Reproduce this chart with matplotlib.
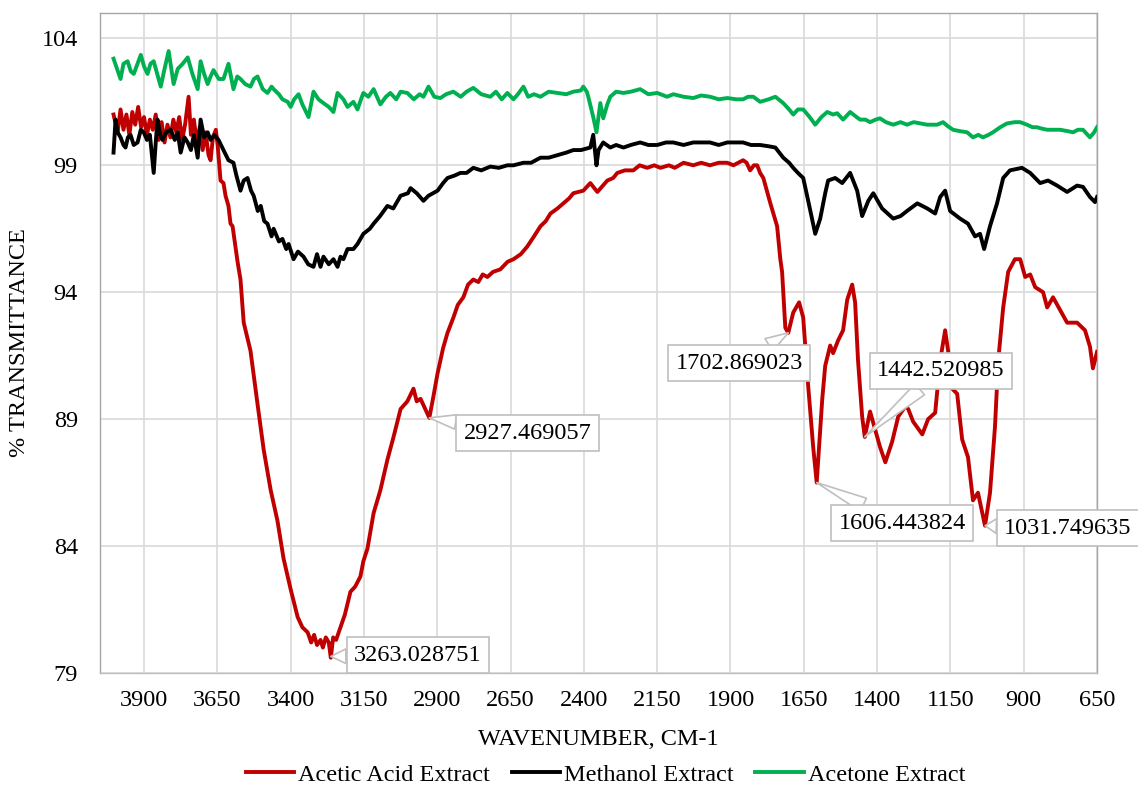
import matplotlib
matplotlib.use("Agg")
import matplotlib.pyplot as plt

# FTIR spectra (wavenumber cm-1, % transmittance)
acetic_wn = [4004, 3990, 3980, 3970, 3960, 3950, 3940, 3930, 3920, 3910, 3900, 3890, 3880, 3870,
             3860, 3850, 3840, 3830, 3820, 3810, 3800, 3790, 3780, 3770, 3760, 3748, 3740, 3730,
             3720, 3710, 3700, 3690, 3680, 3673, 3665, 3655, 3649, 3639, 3629, 3622, 3612, 3605,
             3598, 3581, 3571, 3560, 3537, 3513, 3492, 3468, 3445, 3424, 3400, 3376, 3360, 3342,
             3330, 3320, 3310, 3298, 3290, 3280, 3270, 3263, 3255, 3245, 3230, 3215, 3196, 3180,
             3162, 3152, 3138, 3117, 3094, 3070, 3049, 3025, 3010, 3002, 2981, 2970, 2957, 2945,
             2927, 2913, 2899, 2880, 2865, 2845, 2830, 2811, 2795, 2777, 2760, 2745, 2729, 2710,
             2685, 2660, 2640, 2615, 2593, 2570, 2548, 2530, 2514, 2490, 2470, 2450, 2436, 2402,
             2378, 2354, 2335, 2320, 2300, 2286, 2260, 2231, 2210, 2184, 2160, 2139, 2110, 2090,
             2060, 2027, 2000, 1970, 1940, 1911, 1890, 1857, 1845, 1833, 1820, 1809, 1799, 1788,
             1764, 1741, 1730, 1724, 1713, 1703, 1686, 1666, 1652, 1635, 1618, 1606, 1587, 1577,
             1560, 1550, 1533, 1516, 1502, 1485, 1475, 1465, 1451, 1442, 1424, 1407, 1390, 1372,
             1349, 1328, 1304, 1294, 1277, 1246, 1226, 1202, 1185, 1168, 1158, 1144, 1127, 1110,
             1090, 1073, 1056, 1032, 1015, 998, 987, 970, 953, 930, 912, 895, 878, 861, 834, 820,
             800, 776, 752, 718, 691, 674, 664, 650]
acetic_t = [101.0, 100.3, 101.2, 100.4, 101.0, 100.2, 101.1, 100.6, 101.3, 100.5, 100.9, 100.2,
            100.8, 100.4, 101.0, 100.0, 100.7, 99.9, 100.6, 100.1, 100.8, 100.3, 100.9, 100.0,
            100.6, 101.7, 100.2, 100.8, 99.9, 100.5, 99.6, 100.3, 99.4, 99.2, 100.1, 100.4, 99.8,
            98.4, 98.3, 97.8, 97.4, 96.7, 96.6, 95.2, 94.5, 92.8, 91.7, 89.6, 87.8, 86.2, 85.0,
            83.5, 82.3, 81.2, 80.8, 80.6, 80.2, 80.5, 80.1, 80.3, 80.0, 80.4, 80.2, 79.6, 80.4,
            80.3, 80.8, 81.3, 82.2, 82.4, 82.8, 83.4, 83.9, 85.3, 86.2, 87.4, 88.3, 89.4, 89.6,
            89.7, 90.2, 89.7, 89.8, 89.5, 89.05, 89.9, 90.8, 91.8, 92.4, 93.0, 93.5, 93.8, 94.3,
            94.5, 94.4, 94.7, 94.6, 94.8, 94.9, 95.2, 95.3, 95.5, 95.8, 96.2, 96.6, 96.8, 97.1,
            97.3, 97.5, 97.7, 97.9, 98.0, 98.3, 97.95, 98.2, 98.4, 98.5, 98.7, 98.8, 98.8, 99.0,
            98.9, 99.0, 98.9, 99.0, 98.9, 99.1, 99.0, 99.1, 99.0, 99.1, 99.1, 99.0, 99.2, 99.1,
            98.8, 99.0, 99.0, 98.7, 98.5, 97.5, 96.6, 95.3, 94.8, 92.6, 92.4, 93.2, 93.6, 93.0,
            90.3, 87.9, 86.5, 89.8, 91.1, 91.9, 91.6, 92.1, 92.5, 93.7, 94.3, 93.6, 91.3, 89.1,
            88.3, 89.3, 88.6, 87.9, 87.3, 88.1, 89.1, 89.5, 89.4, 88.9, 88.4, 89.0, 89.25, 91.3,
            92.5, 91.7, 90.2, 90.0, 88.2, 87.5, 85.8, 86.1, 84.8, 86.1, 88.7, 91.3, 93.4, 94.8,
            95.3, 95.3, 94.6, 94.7, 94.2, 94.0, 93.4, 93.8, 93.3, 92.8, 92.8, 92.5, 91.85, 91.0,
            91.65]

methanol_wn = [4004, 3997, 3990, 3980, 3970, 3963, 3955, 3946, 3935, 3922, 3911, 3901, 3890,
               3880, 3867, 3860, 3854, 3845, 3837, 3825, 3809, 3795, 3785, 3775, 3762, 3751,
               3740, 3730, 3717, 3707, 3695, 3683, 3673, 3660, 3646, 3629, 3612, 3595, 3585,
               3571, 3560, 3547, 3535, 3526, 3512, 3502, 3490, 3479, 3465, 3458, 3440, 3428,
               3415, 3407, 3390, 3375, 3356, 3340, 3322, 3310, 3298, 3288, 3270, 3254, 3240,
               3230, 3220, 3206, 3186, 3172, 3152, 3130, 3117, 3095, 3070, 3050, 3025, 3000,
               2991, 2970, 2947, 2930, 2899, 2880, 2865, 2840, 2821, 2800, 2777, 2750, 2719,
               2690, 2661, 2640, 2606, 2580, 2548, 2520, 2490, 2460, 2436, 2410, 2378, 2368,
               2357, 2350, 2334, 2310, 2290, 2265, 2240, 2208, 2180, 2150, 2120, 2095, 2060,
               2027, 2003, 1970, 1940, 1911, 1880, 1857, 1830, 1799, 1770, 1747, 1720, 1700,
               1686, 1670, 1652, 1635, 1611, 1594, 1577, 1567, 1543, 1519, 1492, 1468, 1451,
               1430, 1413, 1383, 1345, 1320, 1298, 1263, 1229, 1202, 1185, 1168, 1151, 1117,
               1090, 1066, 1049, 1035, 1015, 991, 970, 947, 906, 878, 844, 817, 786, 752, 718,
               698, 674, 657, 650]
methanol_t = [99.5, 100.8, 100.3, 100.1, 99.8, 99.7, 100.1, 100.2, 99.8, 99.9, 100.4, 100.3,
              100.0, 100.2, 98.7, 99.9, 100.8, 100.2, 100.0, 100.3, 100.4, 100.0, 100.3, 99.5,
              100.1, 99.9, 99.6, 100.2, 99.3, 100.8, 100.1, 100.3, 100.0, 100.2, 100.0, 99.6,
              99.2, 99.1, 98.6, 98.0, 98.4, 98.5, 98.0, 97.8, 97.2, 97.4, 96.8, 96.7, 96.2, 96.5,
              96.0, 96.1, 95.7, 95.9, 95.3, 95.6, 95.4, 95.1, 95.0, 95.5, 95.0, 95.4, 95.1, 95.3,
              95.0, 95.4, 95.3, 95.7, 95.7, 95.9, 96.3, 96.5, 96.7, 97.0, 97.4, 97.3, 97.8, 97.9,
              98.1, 97.9, 97.6, 97.8, 98.0, 98.3, 98.5, 98.6, 98.7, 98.7, 98.9, 98.8, 98.95, 98.9,
              99.0, 99.0, 99.1, 99.1, 99.3, 99.3, 99.4, 99.5, 99.6, 99.6, 99.7, 100.2, 99.0, 99.6,
              99.9, 99.7, 99.8, 99.7, 99.8, 99.9, 99.8, 99.8, 99.9, 99.9, 99.8, 99.9, 99.9, 99.9,
              99.8, 99.9, 99.9, 99.9, 99.8, 99.8, 99.75, 99.7, 99.3, 99.1, 98.9, 98.7, 98.5, 97.6,
              96.3, 96.9, 97.9, 98.4, 98.5, 98.3, 98.7, 98.0, 97.0, 97.6, 97.9, 97.3, 96.9, 97.0,
              97.2, 97.5, 97.3, 97.1, 97.75, 98.0, 97.2, 96.9, 96.7, 96.2, 96.3, 95.7, 96.6, 97.5,
              98.5, 98.8, 98.9, 98.7, 98.3, 98.4, 98.2, 97.95, 98.2, 98.15, 97.75, 97.55, 97.75]

acetone_wn = [4004, 3995, 3980, 3970, 3956, 3945, 3935, 3922, 3911, 3900, 3888, 3878, 3867,
              3855, 3843, 3830, 3816, 3808, 3799, 3785, 3768, 3751, 3735, 3717, 3707, 3695,
              3683, 3673, 3663, 3645, 3629, 3612, 3595, 3582, 3571, 3555, 3537, 3525, 3513,
              3495, 3479, 3465, 3458, 3440, 3428, 3410, 3400, 3388, 3373, 3360, 3339, 3322,
              3305, 3288, 3270, 3254, 3240, 3220, 3206, 3186, 3172, 3160, 3152, 3135, 3117,
              3094, 3075, 3060, 3040, 3025, 3002, 2980, 2960, 2947, 2930, 2910, 2889, 2870,
              2845, 2820, 2800, 2777, 2750, 2719, 2700, 2680, 2661, 2640, 2625, 2606, 2590,
              2570, 2548, 2520, 2490, 2460, 2436, 2410, 2402, 2390, 2385, 2368, 2357, 2344,
              2334, 2320, 2310, 2290, 2265, 2240, 2208, 2180, 2150, 2116, 2095, 2060, 2027,
              2000, 1969, 1940, 1911, 1880, 1857, 1840, 1822, 1799, 1770, 1747, 1720, 1700,
              1686, 1670, 1652, 1630, 1611, 1590, 1570, 1550, 1536, 1516, 1492, 1470, 1458,
              1440, 1424, 1405, 1390, 1370, 1345, 1320, 1298, 1275, 1253, 1230, 1195, 1175,
              1160, 1141, 1120, 1093, 1073, 1055, 1039, 1020, 1005, 980, 957, 930, 912, 889,
              870, 855, 840, 820, 800, 776, 752, 732, 715, 698, 674, 660, 650]
acetone_t = [103.2, 102.9, 102.4, 103.0, 103.1, 102.7, 102.6, 103.0, 103.35, 102.9, 102.6,
             103.0, 103.1, 102.6, 102.1, 102.8, 103.5, 102.9, 102.2, 102.8, 103.0, 103.25,
             102.6, 102.0, 103.1, 102.6, 102.2, 102.5, 102.75, 102.4, 102.4, 103.0, 102.0,
             102.5, 102.4, 102.2, 102.1, 102.4, 102.5, 102.0, 101.85, 102.1, 102.0, 101.8,
             101.6, 101.5, 101.3, 101.6, 101.8, 101.4, 100.9, 101.9, 101.6, 101.45, 101.3,
             101.1, 101.85, 101.6, 101.3, 101.5, 101.2, 101.6, 101.85, 101.7, 102.0, 101.4,
             101.7, 101.85, 101.6, 101.9, 101.85, 101.6, 101.8, 101.7, 102.1, 101.7, 101.65,
             101.8, 101.9, 101.7, 101.9, 102.05, 101.8, 101.7, 101.9, 101.6, 101.85, 101.6,
             101.8, 102.1, 101.7, 101.8, 101.7, 101.9, 101.85, 101.8, 101.9, 101.95, 102.1,
             101.9, 101.7, 100.9, 100.3, 101.45, 100.85, 101.4, 101.7, 101.9, 101.85, 101.9,
             102.0, 101.8, 101.85, 101.7, 101.8, 101.7, 101.65, 101.75, 101.7, 101.6, 101.65,
             101.6, 101.6, 101.7, 101.7, 101.5, 101.6, 101.7, 101.45, 101.2, 101.0, 101.2,
             101.2, 100.9, 100.6, 100.9, 101.1, 101.0, 101.05, 100.8, 101.1, 100.9, 100.8,
             100.8, 100.7, 100.8, 100.85, 100.7, 100.6, 100.7, 100.6, 100.7, 100.65, 100.6,
             100.6, 100.7, 100.55, 100.4, 100.35, 100.3, 100.1, 100.2, 100.1, 100.2, 100.3,
             100.5, 100.65, 100.7, 100.7, 100.6, 100.5, 100.5, 100.45, 100.4, 100.4, 100.4,
             100.35, 100.3, 100.4, 100.4, 100.1, 100.3, 100.5]

# peak callouts: label, peak position, and where the label box sits
callout_text = ["3263.028751", "2927.469057", "1702.869023", "1442.520985", "1606.443824", "1031.749635"]
callout_wn = [3263.028751, 2927.469057, 1702.869023, 1442.520985, 1606.443824, 1031.749635]
callout_t = [79.65, 89.05, 92.4, 88.3, 86.5, 84.8]
callout_box_wn = [2967, 2592, 1870, 1182, 1315, 749]
callout_box_t = [79.7, 88.45, 91.2, 90.9, 84.9, 84.7]

x_ticks = [3900, 3650, 3400, 3150, 2900, 2650, 2400, 2150, 1900, 1650, 1400, 1150, 900, 650]
y_ticks = [79, 84, 89, 94, 99, 104]

plt.rcParams["font.family"] = ["Liberation Serif", "DejaVu Serif"]
plt.rcParams["font.size"] = 17.5

fig = plt.figure(figsize=(11.38, 7.88), dpi=100)
ax = fig.add_axes([0.0879, 0.146, 0.8761, 0.8375])

lw = 2.8
ax.plot(acetic_wn, acetic_t, color="#C00000", lw=lw, label="Acetic Acid Extract", zorder=3)
ax.plot(methanol_wn, methanol_t, color="#000000", lw=lw, label="Methanol Extract", zorder=3)
ax.plot(acetone_wn, acetone_t, color="#00B050", lw=lw, label="Acetone Extract", zorder=3)

for txt, wn, t, bwn, bt in zip(callout_text, callout_wn, callout_t, callout_box_wn, callout_box_t):
    ax.annotate(txt, xy=(wn, t), xytext=(bwn, bt), ha="center", va="center",
                bbox=dict(boxstyle="square,pad=0.3", fc="white", ec="#BFBFBF", lw=1.2),
                arrowprops=dict(arrowstyle="wedge,tail_width=0.6", fc="white", ec="#BFBFBF",
                                lw=1.2, shrinkA=0, shrinkB=0),
                zorder=5, annotation_clip=False)

ax.set_xlim(4050, 650)
ax.set_ylim(79, 105)
ax.set_xticks(x_ticks)
ax.set_yticks(y_ticks)
ax.tick_params(length=0)
ax.tick_params(axis="x", pad=12)
ax.tick_params(axis="y", pad=16)
ax.grid(True, color="#D9D9D9", lw=1.2)
ax.set_axisbelow(True)
for side in ["left", "top", "right"]:
    ax.spines[side].set_color("#A6A6A6")
ax.spines["bottom"].set_color("#BFBFBF")
for s in ax.spines.values():
    s.set_linewidth(1.0)

ax.set_xlabel("WAVENUMBER, CM-1", labelpad=13)
ax.set_ylabel("% TRANSMITTANCE", labelpad=8)

fig.legend(loc="center", bbox_to_anchor=(0.532, 0.0165), ncol=3, frameon=False,
           handlelength=2.0, handletextpad=0.15, columnspacing=0.9)

fig.savefig("out.png", dpi=100)
